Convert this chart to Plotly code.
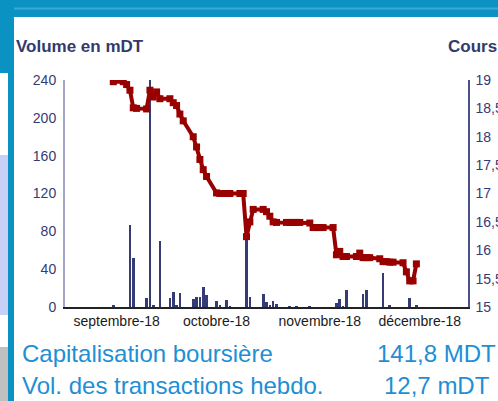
import plotly.graph_objects as go
import pandas as pd

# ---- data ----
price_dates = pd.bdate_range("2018-08-31", "2018-11-30")
price_values = [
    18.97,                                   # Aug 31
    18.97, 18.92, 18.82, 18.51, 18.50,       # Sep 3-7
    18.49, 18.82, 18.70, 18.79, 18.67,       # Sep 10-14
    18.67, 18.60, 18.55, 18.40, 18.28,       # Sep 17-21
    18.00, 17.82, 17.60, 17.42, 17.30,       # Sep 24-28
    17.01, 17.00, 17.00, 17.00, 17.00,       # Oct 1-5
    17.00, 17.00, 16.24, 16.50, 16.72,       # Oct 8-12
    16.72, 16.68, 16.60, 16.50, 16.49,       # Oct 15-19
    16.49, 16.49, 16.49, 16.49, 16.49,       # Oct 22-26
    16.48, 16.40, 16.40, 16.40, 16.40,       # Oct 29 - Nov 2
    16.40, 15.92, 15.98, 15.89, 15.89,       # Nov 5-9
    15.89, 15.95, 15.87, 15.87, 15.87,       # Nov 12-16
    15.85, 15.80, 15.80, 15.79, 15.79,       # Nov 19-23
    15.78, 15.62, 15.46, 15.46, 15.76,       # Nov 26-30
]

vol_dates = [
    "2018-08-31", "2018-09-05", "2018-09-06", "2018-09-10", "2018-09-11",
    "2018-09-12", "2018-09-14", "2018-09-17", "2018-09-18", "2018-09-19",
    "2018-09-20", "2018-09-24", "2018-09-25", "2018-09-26", "2018-09-27",
    "2018-09-28", "2018-10-01", "2018-10-02", "2018-10-04", "2018-10-05",
    "2018-10-10", "2018-10-11", "2018-10-15", "2018-10-16", "2018-10-17",
    "2018-10-18", "2018-10-19", "2018-10-23", "2018-10-25", "2018-10-29",
    "2018-11-06", "2018-11-07", "2018-11-08", "2018-11-09", "2018-11-14",
    "2018-11-15", "2018-11-20", "2018-11-22", "2018-11-28", "2018-11-30",
]
vol_values = [
    2.5, 87, 52, 9, 240,
    2, 70, 9, 16, 1.5,
    15, 8, 10.5, 10.5, 21,
    13, 6.6, 2.5, 7.7, 1,
    79, 10.5, 13.7, 5.3, 2.5,
    6.6, 3.5, 0.6, 0.6, 0.6,
    4.5, 8.7, 1, 17.5, 13.7,
    18.2, 36, 1.5, 9, 1.5,
]

month_ticks = ["2018-09-01", "2018-10-01", "2018-11-01", "2018-12-01"]
month_labels = ["septembre-18", "octobre-18", "novembre-18", "décembre-18"]
vol_ticks = [0, 40, 80, 120, 160, 200, 240]
price_ticks = [15, 15.5, 16, 16.5, 17, 17.5, 18, 18.5, 19]

# ---- figure ----
W, H = 498, 401
L, R, T, B = 65, 30, 80, 94
PW, PH = W - L - R, H - T - B

def px(x):
    return (x - L) / PW

def py(y):
    return (H - B - y) / PH

NAVY = "#353B75"
TEAL = "#0A93C2"
BLUE = "#1E8FD5"
FONT = "Liberation Sans, Arial, sans-serif"

fig = go.Figure()
fig.add_trace(go.Bar(
    x=pd.to_datetime(vol_dates), y=vol_values,
    marker=dict(color=NAVY, line=dict(width=0)),
    width=0.8 * 86400000, yaxis="y", showlegend=False,
))
fig.add_trace(go.Scatter(
    x=price_dates, y=price_values, mode="lines+markers",
    line=dict(color="#990000", width=4),
    marker=dict(symbol="square", size=7, color="#990000"),
    yaxis="y2", showlegend=False,
))

shapes = [
    dict(type="rect", xref="paper", yref="paper", x0=px(0), x1=px(W), y0=py(0), y1=py(17),
         fillcolor=TEAL, line=dict(width=0), layer="below"),
    dict(type="rect", xref="paper", yref="paper", x0=px(14), x1=px(W), y0=py(7.5), y1=py(9.5),
         fillcolor="#3AAAD3", line=dict(width=0), layer="below"),
    dict(type="rect", xref="paper", yref="paper", x0=px(0), x1=px(14), y0=py(0), y1=py(73),
         fillcolor=TEAL, line=dict(width=0), layer="below"),
    dict(type="rect", xref="paper", yref="paper", x0=px(0), x1=px(8), y0=py(155), y1=py(315),
         fillcolor="#C8D0F8", line=dict(width=0), layer="below"),
    dict(type="rect", xref="paper", yref="paper", x0=px(0), x1=px(8), y0=py(347), y1=py(H),
         fillcolor="#C0C0C0", line=dict(width=0), layer="below"),
    dict(type="rect", xref="paper", yref="paper", x0=px(8), x1=px(14), y0=py(0), y1=py(H),
         fillcolor=TEAL, line=dict(width=0), layer="below"),
]

annotations = [
    dict(text="<b>Volume en mDT</b>", xref="paper", yref="paper", x=px(14), y=py(47),
         xanchor="left", yanchor="middle", showarrow=False,
         font=dict(family=FONT, size=17, color="#333A6E")),
    dict(text="<b>Cours</b>", xref="paper", yref="paper", x=px(446), y=py(47),
         xanchor="left", yanchor="middle", showarrow=False,
         font=dict(family=FONT, size=17, color="#333A6E")),
    dict(text="Capitalisation boursière", xref="paper", yref="paper", x=px(20), y=py(353),
         xanchor="left", yanchor="middle", showarrow=False,
         font=dict(family=FONT, size=24, color=BLUE)),
    dict(text="141,8 MDT", xref="paper", yref="paper", x=px(498), y=py(353),
         xanchor="right", yanchor="middle", showarrow=False,
         font=dict(family=FONT, size=24, color=BLUE)),
    dict(text="Vol. des transactions hebdo.", xref="paper", yref="paper", x=px(20), y=py(385),
         xanchor="left", yanchor="middle", showarrow=False,
         font=dict(family=FONT, size=24, color=BLUE)),
    dict(text="12,7 mDT", xref="paper", yref="paper", x=px(492), y=py(385),
         xanchor="right", yanchor="middle", showarrow=False,
         font=dict(family=FONT, size=24, color=BLUE)),
]

fig.update_layout(
    width=W, height=H,
    margin=dict(l=L, r=R, t=T, b=B, pad=0, autoexpand=False),
    paper_bgcolor="white", plot_bgcolor="white",
    separators=", ",
    bargap=0,
    font=dict(family=FONT, size=14, color=NAVY),
    xaxis=dict(
        type="date", range=["2018-08-16 12:00", "2018-12-15 12:00"],
        tickmode="array", tickvals=month_ticks, ticktext=month_labels,
        showgrid=False, zeroline=False, showline=True, linecolor="#222222", linewidth=2,
        ticks="", automargin=False, tickfont=dict(family=FONT, size=14, color="#1a1a1a"),
    ),
    yaxis=dict(
        range=[0, 240], tickmode="array", tickvals=vol_ticks,
        showgrid=False, zeroline=False, showline=True, linecolor="#A3A3CC", linewidth=2,
        ticks="outside", ticklen=4, tickcolor="rgba(0,0,0,0)", automargin=False,
        tickfont=dict(family=FONT, size=14, color=NAVY),
    ),
    yaxis2=dict(
        range=[15, 19], tickmode="array", tickvals=price_ticks, overlaying="y", side="right",
        showgrid=False, zeroline=False, showline=True, linecolor="#4A5088", linewidth=1.5,
        ticks="outside", ticklen=3, tickcolor="rgba(0,0,0,0)", automargin=False,
        tickfont=dict(family=FONT, size=14, color=NAVY),
    ),
    shapes=shapes,
    annotations=annotations,
)

fig.write_html(
    "out.html",
    config={"displayModeBar": False},
    post_script="document.body.style.margin='0';document.body.style.overflow='hidden';",
)
